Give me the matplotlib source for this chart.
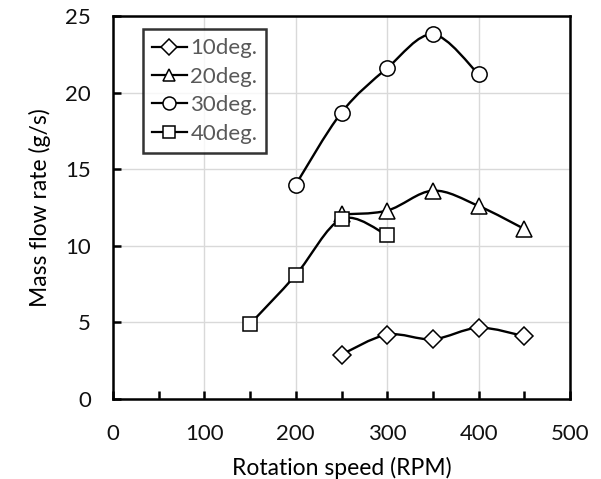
import numpy as np
import matplotlib
matplotlib.use("Agg")
import matplotlib.pyplot as plt
from matplotlib.path import Path
from matplotlib.patches import PathPatch
from matplotlib.lines import Line2D

plt.rcParams['font.family'] = ['Lato', 'DejaVu Sans']

# data
rpm_10 = [250, 300, 350, 400, 450]
flow_10 = [2.9, 4.2, 3.9, 4.65, 4.1]
rpm_20 = [250, 300, 350, 400, 450]
flow_20 = [12.05, 12.3, 13.6, 12.6, 11.1]
rpm_30 = [200, 250, 300, 350, 400]
flow_30 = [14.0, 18.7, 21.6, 23.8, 21.2]
rpm_40 = [150, 200, 250, 300]
flow_40 = [4.9, 8.1, 11.75, 10.7]

labels = ['10deg.', '20deg.', '30deg.', '40deg.']
markers = ['D', '^', 'o', 's']
msizes = [9.5, 11, 11, 10.5]

series = [(rpm_10, flow_10), (rpm_20, flow_20), (rpm_30, flow_30), (rpm_40, flow_40)]

fig = plt.figure(figsize=(6.01, 4.79), dpi=100)
ax = fig.add_axes([113/601, 1 - 399/479, (570-113)/601, (399-16)/479])


def smooth_path(x, y):
    pts = np.column_stack([x, y]).astype(float)
    n = len(pts)
    verts = [pts[0]]
    codes = [Path.MOVETO]
    for i in range(n - 1):
        p0 = pts[i - 1] if i > 0 else pts[i]
        p1 = pts[i]
        p2 = pts[i + 1]
        p3 = pts[i + 2] if i + 2 < n else pts[i + 1]
        c1 = p1 + (p2 - p0) / 6.0
        c2 = p2 - (p3 - p1) / 6.0
        verts += [c1, c2, p2]
        codes += [Path.CURVE4] * 3
    return Path(verts, codes)


handles = []
for (x, y), m, ms, lab in zip(series, markers, msizes, labels):
    patch = PathPatch(smooth_path(x, y), facecolor='none', edgecolor='black',
                      lw=1.7, zorder=3)
    ax.add_patch(patch)
    ax.plot(x, y, linestyle='none', marker=m, markersize=ms,
            markerfacecolor='white', markeredgecolor='black',
            markeredgewidth=1.1, zorder=4)
    handles.append(Line2D([], [], color='black', lw=1.6, marker=m,
                          markersize=ms * 0.85, markerfacecolor='white',
                          markeredgecolor='black', markeredgewidth=1.1,
                          label=lab))

ax.set_xlim(0, 500)
ax.set_ylim(0, 25)
ax.set_xticks(np.arange(0, 501, 100))
ax.set_xticks(np.arange(0, 501, 50), minor=True)
ax.set_yticks(np.arange(0, 26, 5))
ax.grid(True, which='major', color='#d9d9d9', lw=1.0, zorder=0)
ax.set_axisbelow(True)
ax.tick_params(which='both', direction='in', width=1.8, labelsize=16,
               labelcolor='#111111', color='black')
ax.tick_params(which='major', length=6)
ax.tick_params(which='minor', length=6)
ax.tick_params(axis='x', which='major', pad=18)
ax.tick_params(axis='y', which='major', pad=16)
ax.tick_params(axis='y', which='minor', left=False)
for s in ax.spines.values():
    s.set_linewidth(1.8)
    s.set_color('black')

ax.set_xlabel('Rotation speed (RPM)', fontsize=16.5, labelpad=9)
ax.set_ylabel('Mass flow rate (g/s)', fontsize=16.5, labelpad=10)

leg = ax.legend(handles=handles, loc='upper left', bbox_to_anchor=(0.065, 0.965),
                fontsize=16, frameon=True, fancybox=False, handlelength=1.6,
                handletextpad=0.15, borderpad=0.4, labelspacing=0.38,
                labelcolor='#595959', borderaxespad=0)
leg.get_frame().set_edgecolor('black')
leg.get_frame().set_linewidth(1.8)

fig.savefig('out.png', dpi=100)
